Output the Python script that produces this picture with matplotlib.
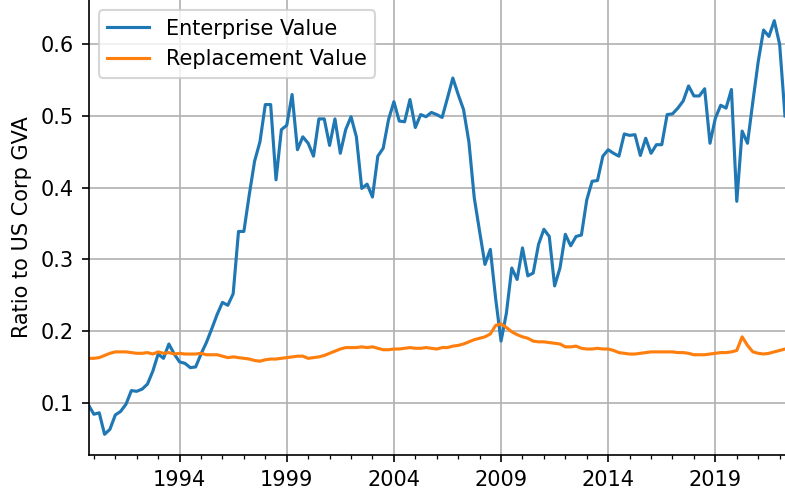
import numpy as np
import pandas as pd
import matplotlib
matplotlib.use("Agg")
import matplotlib.pyplot as plt

# quarterly series, 1989Q4 .. 2022Q2
quarters = pd.period_range("1989Q4", "2022Q2", freq="Q")

enterprise_value = [
    0.097, 0.084, 0.086, 0.056, 0.063, 0.083, 0.088, 0.098, 0.117, 0.116,
    0.119, 0.126, 0.144, 0.168, 0.162, 0.182, 0.168, 0.157, 0.155, 0.149,
    0.150, 0.168, 0.184, 0.203, 0.223, 0.240, 0.236, 0.252, 0.339, 0.339,
    0.390, 0.437, 0.464, 0.516, 0.516, 0.411, 0.481, 0.487, 0.530, 0.453,
    0.471, 0.462, 0.444, 0.496, 0.496, 0.459, 0.496, 0.448, 0.481, 0.499,
    0.471, 0.399, 0.405, 0.387, 0.444, 0.455, 0.495, 0.520, 0.493, 0.492,
    0.523, 0.484, 0.502, 0.499, 0.505, 0.502, 0.498, 0.525, 0.553, 0.530,
    0.509, 0.464, 0.386, 0.339, 0.293, 0.314, 0.245, 0.186, 0.225, 0.288,
    0.272, 0.316, 0.277, 0.281, 0.321, 0.342, 0.332, 0.263, 0.288, 0.335,
    0.319, 0.332, 0.334, 0.383, 0.409, 0.410, 0.444, 0.453, 0.448, 0.444,
    0.475, 0.473, 0.474, 0.445, 0.469, 0.448, 0.460, 0.460, 0.502, 0.503,
    0.511, 0.521, 0.542, 0.528, 0.528, 0.538, 0.462, 0.497, 0.515, 0.511,
    0.537, 0.381, 0.479, 0.462, 0.520, 0.576, 0.620, 0.611, 0.633, 0.600,
    0.500,
]

replacement_value = [
    0.162, 0.162, 0.163, 0.166, 0.169, 0.171, 0.171, 0.171, 0.170, 0.169,
    0.169, 0.170, 0.168, 0.171, 0.169, 0.170, 0.168, 0.169, 0.168, 0.168,
    0.168, 0.169, 0.167, 0.167, 0.167, 0.165, 0.163, 0.164, 0.163, 0.162,
    0.161, 0.159, 0.158, 0.160, 0.161, 0.161, 0.162, 0.163, 0.164, 0.165,
    0.165, 0.162, 0.163, 0.164, 0.166, 0.169, 0.172, 0.175, 0.177, 0.177,
    0.177, 0.178, 0.177, 0.178, 0.176, 0.174, 0.174, 0.175, 0.175, 0.176,
    0.177, 0.176, 0.176, 0.177, 0.176, 0.175, 0.177, 0.177, 0.179, 0.180,
    0.182, 0.185, 0.188, 0.190, 0.192, 0.196, 0.208, 0.210, 0.205, 0.199,
    0.195, 0.192, 0.190, 0.186, 0.185, 0.185, 0.184, 0.183, 0.182, 0.178,
    0.178, 0.179, 0.176, 0.175, 0.175, 0.176, 0.175, 0.175, 0.173, 0.170,
    0.169, 0.168, 0.168, 0.169, 0.170, 0.171, 0.171, 0.171, 0.171, 0.171,
    0.170, 0.170, 0.169, 0.167, 0.167, 0.167, 0.168, 0.169, 0.170, 0.170,
    0.171, 0.173, 0.192, 0.180, 0.171, 0.169, 0.168, 0.169, 0.171, 0.173,
    0.175,
]

major_years = [1994, 1999, 2004, 2009, 2014, 2019]
minor_years = list(range(1990, 2023))

# quarter start as fractional year
t = quarters.year + (quarters.quarter - 1) / 4.0

fig = plt.figure(figsize=(785 / 150, 493 / 150), dpi=150)
ax = fig.add_axes([88.5 / 785, 38 / 493, 1 - 88.5 / 785, 1 - 38 / 493])

ax.plot(t, enterprise_value, label="Enterprise Value")
ax.plot(t, replacement_value, label="Replacement Value")

ax.set_xlim(t[0], t[-1])
ax.set_xticks(major_years)
ax.set_xticks(minor_years, minor=True)
ax.set_yticks([0.1, 0.2, 0.3, 0.4, 0.5, 0.6])
ax.grid(True, which="major")
ax.spines["top"].set_visible(False)
ax.spines["right"].set_visible(False)
ax.set_ylabel("Ratio to US Corp GVA")
ax.legend(loc="upper left")

fig.savefig("out.png", dpi=150)
